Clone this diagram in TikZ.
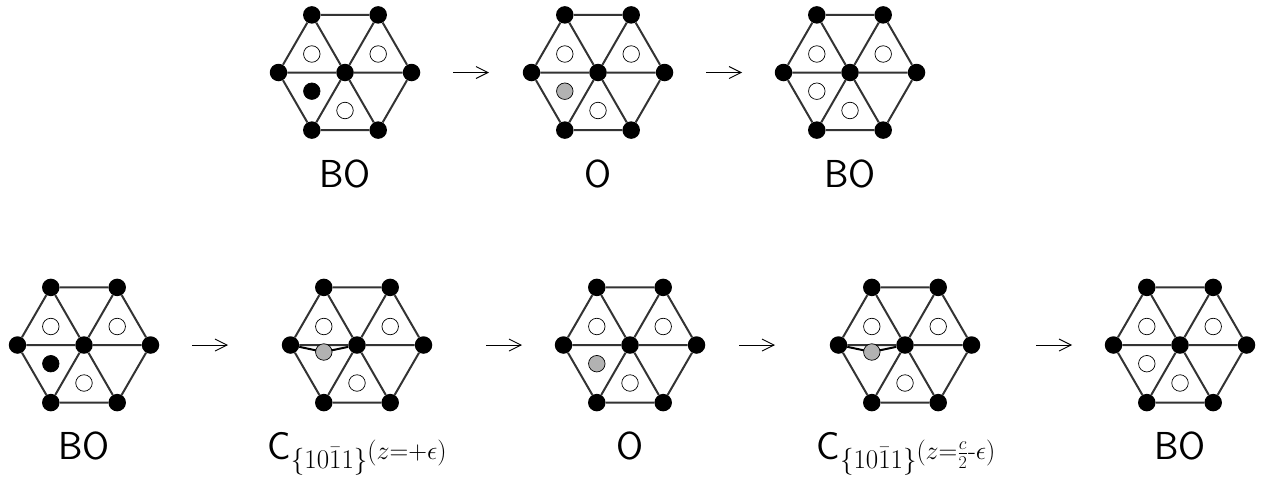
\documentclass[tikz,border=0pt]{standalone}
\usepackage{fix-cm}
\usepackage{amsmath}
\DeclareMathSizes{26}{26}{18}{14}
\DeclareMathSizes{27}{27}{18}{14}
\usetikzlibrary{arrows.meta}
\newcommand{\subsz}[1]{\raisebox{-9pt}{\fontsize{27}{27}\selectfont\rmfamily$#1$}}
\newcommand{\supsz}[1]{\raisebox{-0.5pt}{\fontsize{26}{26}\selectfont\rmfamily$#1$}}
\tikzset{
  x=1pt,y=-1pt,
  atom/.style={circle,fill=black,draw=none,minimum size=17.5pt,inner sep=0pt},
  bond/.style={draw=black!80,line width=2pt},
  site/.style={circle,draw=black,line width=0.7pt,fill=white,minimum size=16.5pt,inner sep=0pt},
  filledsite/.style={site,fill=black},
  greysite/.style={site,fill=black!30},
  lbl/.style={inner sep=0pt,anchor=base,font=\fontsize{39}{39}\selectfont\sffamily},
  step arrow/.style={line width=0.9pt,-{Straight Barb[length=12pt,width=12pt,line width=0.9pt]}},
}
% name, cx, cy, style of the fourth site
\newcommand{\hexcell}[4]{%
  \node[atom] (#1c) at (#2,#3) {};
  \node[atom] (#1w) at (#2-66.5,#3) {};
  \node[atom] (#1e) at (#2+66.5,#3) {};
  \node[atom] (#1nw) at (#2-33.2,#3-57.6) {};
  \node[atom] (#1ne) at (#2+33.2,#3-57.6) {};
  \node[atom] (#1sw) at (#2-33.2,#3+57.6) {};
  \node[atom] (#1se) at (#2+33.2,#3+57.6) {};
  \draw[bond] (#1nw) -- (#1ne) -- (#1e) -- (#1se) -- (#1sw) -- (#1w) -- (#1nw);
  \draw[bond] (#1w) -- (#1c) -- (#1e) (#1nw) -- (#1c) -- (#1se) (#1ne) -- (#1c) -- (#1sw);
  \node[site] (#1a) at (#2-33.2,#3-18.5) {};
  \node[site] (#1b) at (#2+33.2,#3-18.5) {};
  \node[site] (#1d) at (#2,#3+38) {};
  \node[#4] (#1g) at (#2-33.2,#3+18.7) {};
}
% the saddle-point cell: no fourth site, a grey atom on bent bonds
\newcommand{\saddle}[3]{%
  \node[atom] (#1c) at (#2,#3) {};
  \node[atom] (#1w) at (#2-66.5,#3) {};
  \node[atom] (#1e) at (#2+66.5,#3) {};
  \node[atom] (#1nw) at (#2-33.2,#3-57.6) {};
  \node[atom] (#1ne) at (#2+33.2,#3-57.6) {};
  \node[atom] (#1sw) at (#2-33.2,#3+57.6) {};
  \node[atom] (#1se) at (#2+33.2,#3+57.6) {};
  \draw[bond] (#1nw) -- (#1ne) -- (#1e) -- (#1se) -- (#1sw) -- (#1w) -- (#1nw);
  \draw[bond] (#1w) -- (#1c) -- (#1e) (#1nw) -- (#1c) -- (#1se) (#1ne) -- (#1c) -- (#1sw);
  \node[site] (#1a) at (#2-33.2,#3-18.5) {};
  \node[site] (#1b) at (#2+33.2,#3-18.5) {};
  \node[site] (#1d) at (#2,#3+38) {};
  \coordinate (#1s) at (#2-33.2,#3+7);
  \draw[bond,black] (#1w) -- (#1s) -- (#1c);
  \node[greysite] (#1g) at (#1s) {};
}
\begin{document}
\begin{tikzpicture}
\useasboundingbox (0,0) rectangle (1264,477);
\hexcell{ta}{345}{72.5}{filledsite}
\hexcell{tb}{598}{72.5}{greysite}
\hexcell{tc}{850}{72.5}{site}
\hexcell{ba}{84}{345}{filledsite}
\saddle{bb}{357}{345}
\hexcell{bc}{630}{345}{greysite}
\saddle{bd}{905}{345}
\hexcell{be}{1180}{345}{site}
\node[lbl] (l1) at (345,187) {BO};
\node[lbl] (l2) at (598,187) {O};
\node[lbl] (l3) at (850,187) {BO};
\node[lbl] (l4) at (84,459) {BO};
\node[lbl] (l5) at (357,459) {C\subsz{\{10\bar{1}1\}}\supsz{(z{=}{+}\epsilon)}};
\node[lbl] (l6) at (630,459) {O};
\node[lbl] (l7) at (906,459) {C\subsz{\{10\bar{1}1\}}\supsz{(z{=}\frac{c}{2}\text{-}\epsilon)}};
\node[lbl] (l8) at (1180,459) {BO};
\foreach \n/\x/\y in {p/453/72.5,q/706/72.5,r/192/345,s/486/345,t/739/345,u/1036/345}{
  \coordinate (\n1) at (\x,\y);
  \coordinate (\n2) at (\x+36,\y);
  \draw[step arrow] (\n1) -- (\n2);
}
\end{tikzpicture}
\end{document}
